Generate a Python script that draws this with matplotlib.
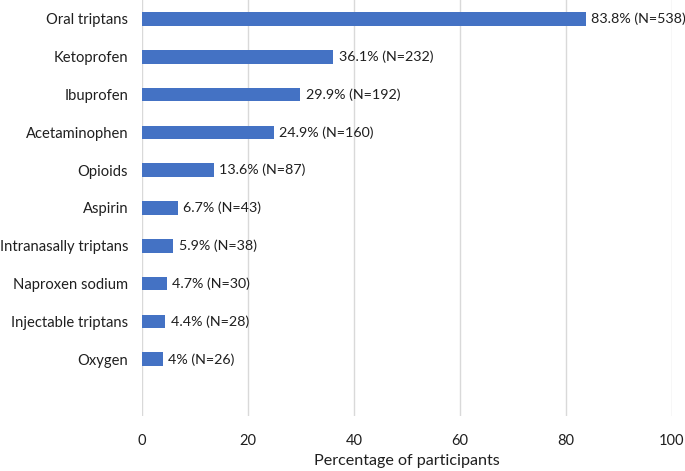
import numpy as np
import matplotlib.pyplot as plt

drugs = ['Oral triptans', 'Ketoprofen', 'Ibuprofen', 'Acetaminophen', 'Opioids',
         'Aspirin', 'Intranasally triptans', 'Naproxen sodium', 'Injectable triptans', 'Oxygen']
pct = [83.8, 36.1, 29.9, 24.9, 13.6, 6.7, 5.9, 4.7, 4.4, 4]
pct_txt = ['83.8', '36.1', '29.9', '24.9', '13.6', '6.7', '5.9', '4.7', '4.4', '4']
n_part = [538, 232, 192, 160, 87, 43, 38, 30, 28, 26]

plt.rcParams['font.family'] = ['Lato', 'DejaVu Sans']
txt_col = '#1f1f1f'

fig = plt.figure(figsize=(6.85, 4.71), dpi=100)
ax = fig.add_axes([142/685, 55/471, 530/685, 416/471])

ypos = np.arange(len(drugs))
ax.barh(ypos, pct, height=0.36, color='#4472C4', zorder=3)
for i in range(len(drugs)):
	ax.text(pct[i] + 1.0, ypos[i], '%s%% (N=%d)' % (pct_txt[i], n_part[i]),
		va='center', ha='left', fontsize=10.3, color=txt_col, zorder=4)

ax.set_ylim(len(drugs) + 0.5, -0.5)
ax.set_xlim(0, 100)
ax.set_yticks(ypos)
ax.set_yticklabels(drugs, fontsize=10.6, color=txt_col)
ax.set_xticks([0, 20, 40, 60, 80, 100])
ax.tick_params(axis='x', labelsize=10.5, colors=txt_col, length=0, pad=13)
ax.tick_params(axis='y', length=0, pad=10)
ax.xaxis.grid(True, color='#D9D9D9', linewidth=1, zorder=0)
for s in ax.spines.values():
	s.set_visible(False)
ax.set_xlabel('Percentage of participants', fontsize=11.6, color=txt_col, labelpad=4.5)

fig.savefig('out.png', dpi=100)
